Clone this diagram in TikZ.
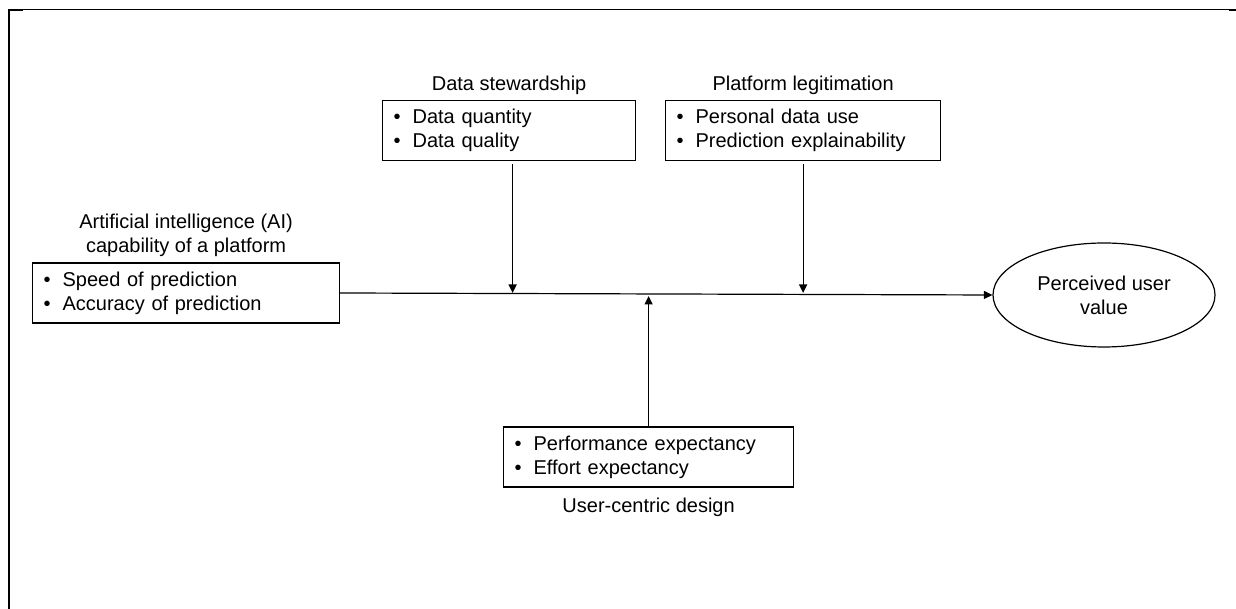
\documentclass[tikz,border=0pt]{standalone}
\usepackage{fontspec}
\setmainfont{Liberation Sans}
\usetikzlibrary{arrows.meta,positioning,shapes.geometric}
\newcommand{\itm}[1]{\makebox[19pt][l]{\textbullet}#1}
\begin{document}
\begin{tikzpicture}[
  x=1pt, y=1pt,
  font=\fontsize{20}{24}\selectfont,
  box/.style={draw, line width=1.2pt, align=left, anchor=west, inner xsep=11pt, inner ysep=0pt, minimum height=60pt, text width=#1},
  head/.style={inner sep=0pt, align=center},
  outcome/.style={draw, ellipse, line width=1.2pt, minimum width=222pt, minimum height=104pt, inner sep=0pt, align=center},
  arr/.style={-{Triangle[length=8.5pt,width=8pt]}, line width=1.2pt},
]
\useasboundingbox (0,0) rectangle (1236,609);
% page frame
\draw[line width=2pt] (9.3,599.5) -- (9.3,0);
\draw[line width=1pt] (9.3,599.5) -- (1229,599.5);
\draw[line width=2pt] (8.3,598.8) -- (22.7,598.8);
\draw[line width=2pt] (1229.3,598.8) -- (1236,598.8);

\node[box=285pt] (ai) at (32,316) {\itm{Speed of prediction}\\\itm{Accuracy of prediction}};
\node[head, above=6pt of ai] (aihead) {Artificial intelligence (AI)\\capability of a platform};
\node[box=231pt] (ds) at (382,478.5) {\itm{Data quantity}\\\itm{Data quality}};
\node[head, above=5.5pt of ds] (dshead) {Data stewardship};
\node[box=253pt] (pl) at (665,478.5) {\itm{Personal data use}\\\itm{Prediction explainability}};
\node[head, above=5.5pt of pl] (plhead) {Platform legitimation};
\node[box=268pt] (uc) at (503,152) {\itm{Performance expectancy}\\\itm{Effort expectancy}};
\node[head, below=10pt of uc] (uchead) {User-centric design};
\node[outcome] (puv) at (1104,314) {Perceived user\\value};
\coordinate (dsfoot) at ([xshift=3.5pt]ds.south);

\draw[arr] (ai.east) -- (puv.west);
\draw[arr, shorten <=3pt] (dsfoot) -- (dsfoot |- ai.east);
\draw[arr, shorten <=3pt] (pl.south) -- (pl.south |- ai.east);
\draw[arr, shorten >=3pt] (uc.north) -- (uc.north |- ai.east);
\end{tikzpicture}
\end{document}
